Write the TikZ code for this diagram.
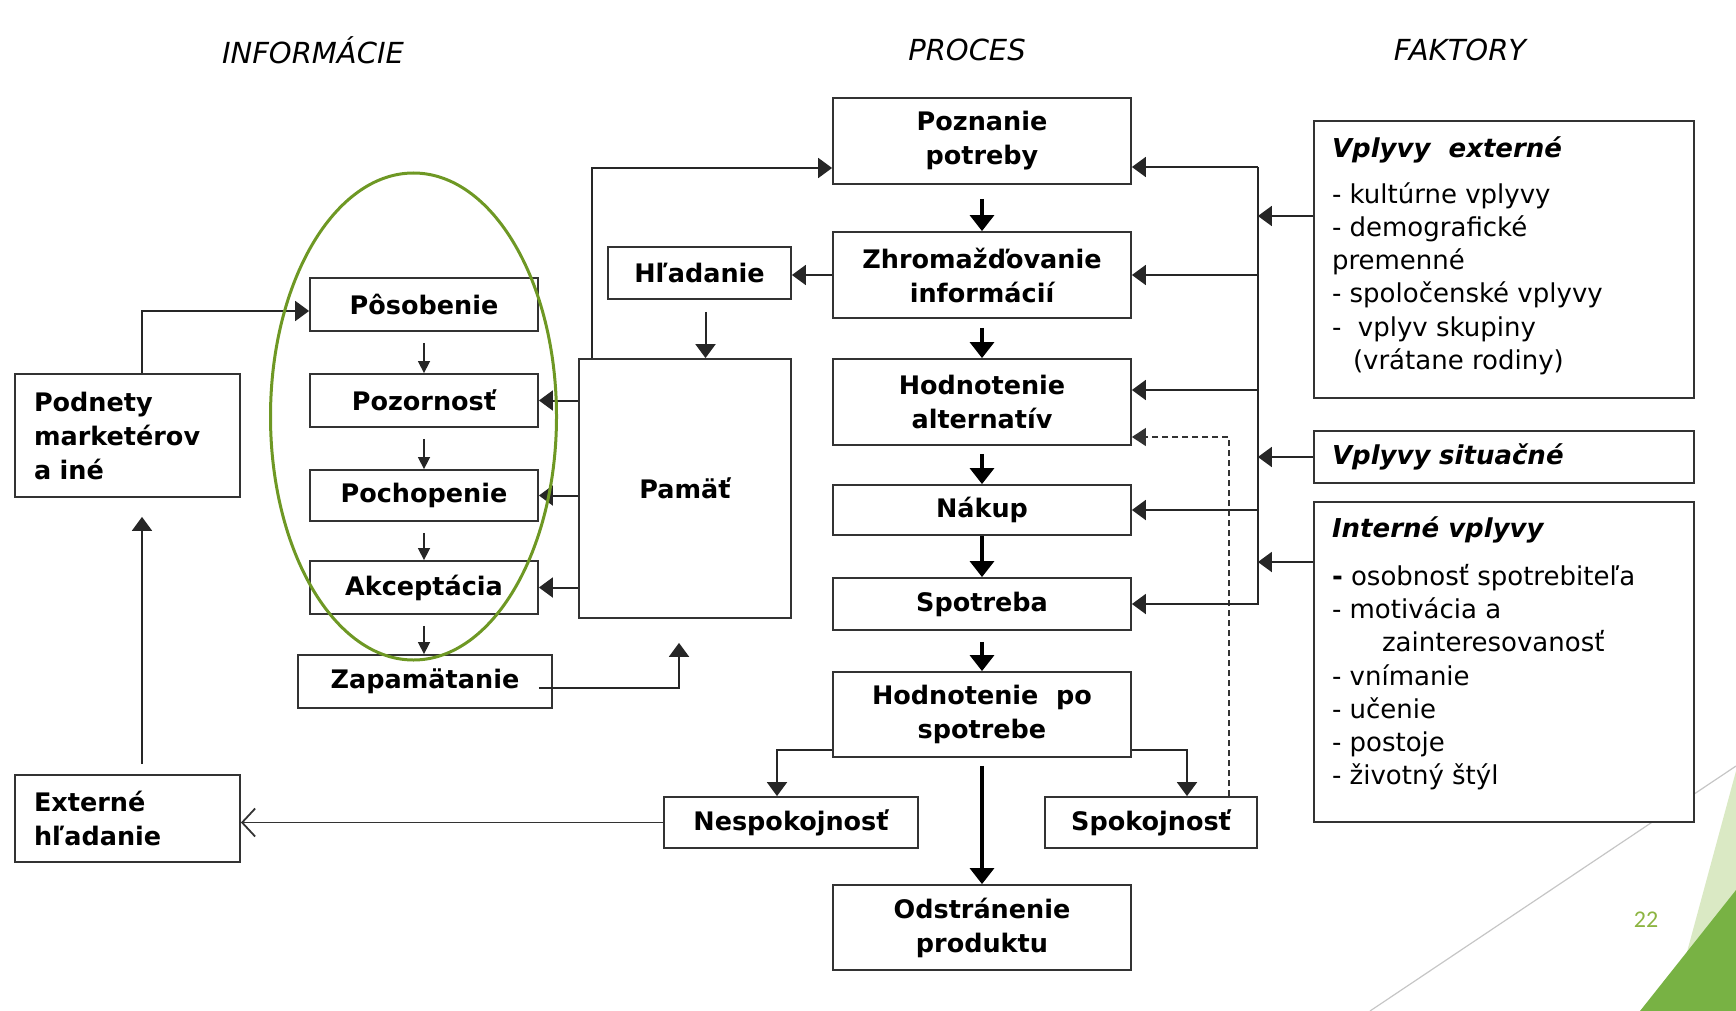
\documentclass[tikz,border=0pt]{standalone}
\usepackage{fontspec}
\setmainfont{DejaVu Sans}
\newfontfamily\pagefont{Carlito}
\usetikzlibrary{arrows.meta,positioning,calc}
\definecolor{ovalgreen}{RGB}{110,152,36}
\definecolor{lightgreen}{RGB}{218,233,196}
\definecolor{darkgreen}{RGB}{120,178,68}
\definecolor{pagegreen}{RGB}{140,180,65}

\begin{document}
\begin{tikzpicture}[x=1pt, y=-1pt,
        box/.style={draw=black!80, fill=white, line width=1.8pt, inner sep=0pt, align=center,
            font=\bfseries\fontsize{25.5}{34}\selectfont},
        leftbox/.style={box, align=left, inner xsep=19pt, text width=187pt, minimum width=225pt},
        factorbox/.style={draw=black!80, fill=white, line width=1.8pt, inner xsep=18pt, inner ysep=0pt,
            minimum width=380pt, font=\fontsize{26}{33.3}\selectfont},
        heading/.style={font=\itshape\fontsize{29}{29}\selectfont},
        line/.style={draw=black!80, line width=2pt},
        bigarrow/.style={draw=black, line width=3.2pt, -{Triangle[length=16pt,width=24pt]}},
        midarrow/.style={draw=black!85, line width=2pt, -{Triangle[length=14pt,width=20pt]}},
        smallarrow/.style={draw=black!85, line width=1.5pt, -{Triangle[length=12pt,width=12pt]}},
        openarrow/.style={draw=black!80, line width=1.8pt, -{Straight Barb[length=13pt,width=28pt]}},
        dasharrow/.style={draw=black!80, line width=1.5pt, dash pattern=on 6pt off 4pt, -{Triangle[length=14pt,width=18pt]}},
]
        \useasboundingbox (0,0) rectangle (1736,1011);

        % slide decoration
        \fill[lightgreen] (1736,771) -- (1671,1011) -- (1736,1011) -- cycle;
        \fill[darkgreen] (1736,890) -- (1640,1011) -- (1736,1011) -- cycle;
        \draw[gray!45, line width=1.2pt] (1370,1011) -- (1736,766);
        \node[text=pagegreen, font=\pagefont\fontsize{24}{24}\selectfont] (pagenum) at (1646,920) {22};

        % column headings
        \node[heading] (hinfo) at (313,50) {INFORMÁCIE};
        \node[heading] (hproc) at (967,50) {PROCES};
        \node[heading] (hfakt) at (1460,50) {FAKTORY};

        % informacie
        \node[leftbox, minimum height=123pt] (podn) at (127.5,435.5) {Podnety\\marketérov\\a iné};
        \node[leftbox, minimum height=87pt] (ext) at (127.5,818.5) {Externé\\hľadanie};
        \node[box, minimum width=228pt, minimum height=53pt] (pos) at (424,304.5) {Pôsobenie};
        \node[box, minimum width=228pt, minimum height=53pt] (poz) at (424,400.5) {Pozornosť};
        \node[box, minimum width=228pt, minimum height=51pt] (poch) at (424,495.5) {Pochopenie};
        \node[box, minimum width=228pt, minimum height=53pt] (akc) at (424,587.5) {Akceptácia};
        \node[box, minimum width=254pt, minimum height=53pt] (zap) at (425,681.5) {Zapamätanie};
        \node[box, minimum width=183pt, minimum height=52pt] (hlad) at (699.5,273) {Hľadanie};
        \node[box, minimum width=212pt, minimum height=259pt] (pam) at (685,488.5) {Pamäť};

        % proces
        \node[box, minimum width=298pt, minimum height=86pt] (pozn) at (982,141) {Poznanie\\potreby};
        \node[box, minimum width=298pt, minimum height=86pt] (zhrom) at (982,275) {Zhromažďovanie\\informácií};
        \node[box, minimum width=298pt, minimum height=86pt] (hodnalt) at (982,402) {Hodnotenie\\alternatív};
        \node[box, minimum width=298pt, minimum height=50pt] (nakup) at (982,510) {Nákup};
        \node[box, minimum width=298pt, minimum height=52pt] (spot) at (982,604) {Spotreba};
        \node[box, minimum width=298pt, minimum height=85pt] (hodnpo) at (982,714.5) {Hodnotenie~~po\\spotrebe};
        \node[box, minimum width=298pt, minimum height=85pt] (odstr) at (982,927.5) {Odstránenie\\produktu};
        \node[box, minimum width=254pt, minimum height=51pt] (nesp) at (791,822.5) {Nespokojnosť};
        \node[box, minimum width=212pt, minimum height=51pt] (spok) at (1151,822.5) {Spokojnosť};

        % faktory
        \node[factorbox, minimum height=277pt] (vext) at (1504,259.5) {\parbox[c][245pt][t]{344pt}{%
            {\bfseries\itshape Vplyvy~~externé}\\[12pt]
            - kultúrne vplyvy\\
            - demografické\\
            premenné\\
            - spoločenské vplyvy\\
            -\ \ vplyv skupiny\\
            \hspace*{21pt}(vrátane rodiny)}};
        \node[factorbox, minimum height=52pt, text width=344pt, align=left] (vsit) at (1504,457)
            {\bfseries\itshape Vplyvy situačné};
        \node[factorbox, minimum height=320pt] (vint) at (1504,662) {\parbox[c][290pt][t]{344pt}{%
            {\bfseries\itshape Interné vplyvy}\\[14pt]
            \textbf{-} osobnosť spotrebiteľa\\
            - motivácia a\\
            \hspace*{50pt}zainteresovanosť\\
            - vnímanie\\
            - učenie\\
            - postoje\\
            - životný štýl}};

        % arrows of the process
        \foreach \a/\b/\g in {pozn/zhrom/14, zhrom/hodnalt/9, hodnalt/nakup/8, nakup/spot/0, spot/hodnpo/11}
            \draw[bigarrow, shorten <=\g pt] (\a.south) -- (\b.north);
        \draw[bigarrow, shorten <=8pt] (hodnpo.south) -- (odstr.north);
        \draw[midarrow] ([yshift=-35.5pt]hodnpo.west) -| ([xshift=-14pt]nesp.north);
        \draw[midarrow] ([yshift=-35.5pt]hodnpo.east) -| ([xshift=36pt]spok.north);
        \draw[dasharrow] ([xshift=78pt]spok.north) |- ([yshift=-35pt]hodnalt.east);

        % factors bus
        \coordinate (bustop) at ([xshift=126pt,yshift=-26pt]pozn.east);
        \coordinate (halt) at ([yshift=12pt]hodnalt.east);
        \draw[midarrow] (bustop) -- (bustop -| pozn.east);
        \draw[midarrow] (bustop) |- (spot.east);
        \draw[midarrow] (bustop |- zhrom.east) -- (zhrom.east);
        \draw[midarrow] (bustop |- halt) -- (halt);
        \draw[midarrow] (bustop |- nakup.east) -- (nakup.east);
        \coordinate (bext) at ([yshift=43.5pt]vext.west);
        \coordinate (bint) at ([yshift=100pt]vint.west);
        \draw[midarrow] (bext) -- (bext -| bustop);
        \draw[midarrow] (vsit.west) -- (vsit.west -| bustop);
        \draw[midarrow] (bint) -- (bint -| bustop);

        % informacie arrows
        \draw[midarrow] (zhrom.west) -- (zhrom.west -| hlad.east);
        \draw[midarrow, shorten <=12pt] ([xshift=6pt]hlad.south) -- ([xshift=6pt]hlad.south |- pam.north);
        \draw[midarrow] ([xshift=14pt]pam.north west) |- ([yshift=-27pt]pozn.west);
        \foreach \b in {poz, poch, akc}
            \draw[midarrow] (pam.west |- \b.east) -- (\b.east);
        \foreach \a/\b in {pos/poz, poz/poch, poch/akc, akc/zap}
            \draw[smallarrow, shorten <=11pt] (\a.south) -- (\a.south |- \b.north);
        \draw[midarrow, shorten >=24pt] ([xshift=-14pt,yshift=-6.5pt]zap.east) -| ([xshift=-6pt]pam.south);
        \draw[midarrow] ([xshift=14.5pt]podn.north) |- ([yshift=-6.5pt]pos.west);
        \draw[midarrow, shorten <=10pt, shorten >=19pt] ([xshift=14.5pt]ext.north) -- ([xshift=14.5pt]podn.south);
        \draw[openarrow] (nesp.west) -- (nesp.west -| ext.east);

        % highlighted group
        \draw[ovalgreen, line width=3pt] (413.5,416.5) ellipse [x radius=143pt, y radius=243.5pt];
\end{tikzpicture}
\end{document}
